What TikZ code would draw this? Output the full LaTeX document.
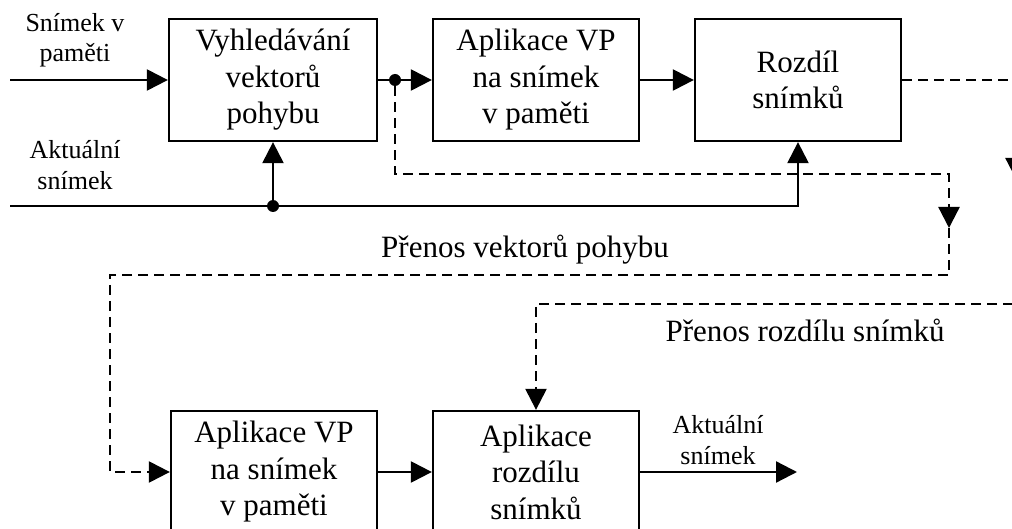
\documentclass[tikz,border=0pt]{standalone}
\usepackage{fontspec}
\setmainfont{Liberation Serif}
\usetikzlibrary{arrows.meta}
\begin{document}
\begin{tikzpicture}[x=1pt,y=-1pt,
  wire/.style={line width=2.3pt},
  dsh/.style={line width=2.3pt, dash pattern=on 10pt off 6pt},
  arr/.style={-{Triangle[length=21pt,width=21pt]}},
  blk/.style={draw, line width=2.3pt, minimum width=206pt, minimum height=122pt,
    inner sep=0pt, align=center, font=\fontsize{31}{36.5}\selectfont},
  lbl/.style={inner sep=0pt, align=center, font=\fontsize{31}{36.5}\selectfont},
  sml/.style={inner sep=0pt, align=center, font=\fontsize{26}{30.5}\selectfont},
  junc/.style={circle, fill, inner sep=0pt, minimum size=12pt}]

\useasboundingbox (0,0) rectangle (1012,529);
\fill[white] (0,0) rectangle (1012,529);

\begin{scope}
\clip (0,0) rectangle (1012,529);

% encoder blocks
\node[blk, minimum width=208pt] (search) at (273,80) {Vyhledávání\\vektorů\\pohybu};
\node[blk] (apply) at (536,80) {Aplikace VP\\na snímek\\v paměti};
\node[blk] (diff) at (798,80) {Rozdíl\\snímků};

% decoder blocks
\node[blk] (dapply) at (274,472) {Aplikace VP\\na snímek\\v paměti};
\node[blk] (dsum) at (536,472) {Aplikace\\rozdílu\\snímků};

% junctions
\node[junc] (j1) at (395,80) {};
\node[junc] (j2) at (273,206) {};

% free line ends and bends
\coordinate (sin) at (10,80);
\coordinate (ain) at (10,206);
\coordinate (aout) at (797,472);
\coordinate (va) at (949,174);
\coordinate (vtip) at (949,228);
\coordinate (vb) at (949,275);
\coordinate (vc) at (110,472);
\coordinate (ra) at (1016,80);
\coordinate (rtip) at (1016,179);
\coordinate (rb) at (1016,304);

% labels
\node[sml] (lsin) at (75,40) {Snímek v\\paměti};
\node[sml] (lain) at (75,165) {Aktuální\\snímek};
\node[sml] (laout) at (718,440) {Aktuální\\snímek};
\node[lbl] (lmv) at (525,250) {Přenos vektorů pohybu};
\node[lbl] (ldf) at (805,330) {Přenos rozdílu snímků};

% solid signal paths
\draw[wire, arr] (sin) -- (search.west);
\draw[wire] (search.east) -- (j1);
\draw[wire, arr] (j1) -- (apply.west);
\draw[wire, arr] (apply.east) -- (diff.west);
\draw[wire, arr] (ain) -| (diff.south);
\draw[wire, arr] (j2) -- (search.south);
\draw[wire, arr] (dapply.east) -- (dsum.west);
\draw[wire, arr] (dsum.east) -- (aout);

% motion vector transfer
\draw[dsh, arr] (j1) |- (va) -- (vtip);
\draw[dsh, arr] (vtip) -- (vb) -| (vc) -- (dapply.west);

% frame difference transfer
\draw[dsh, arr] (diff.east) -- (ra) -- (rtip);
\draw[dsh, arr] (rtip) -- (rb) -| (dsum.north);
\end{scope}
\end{tikzpicture}
\end{document}
